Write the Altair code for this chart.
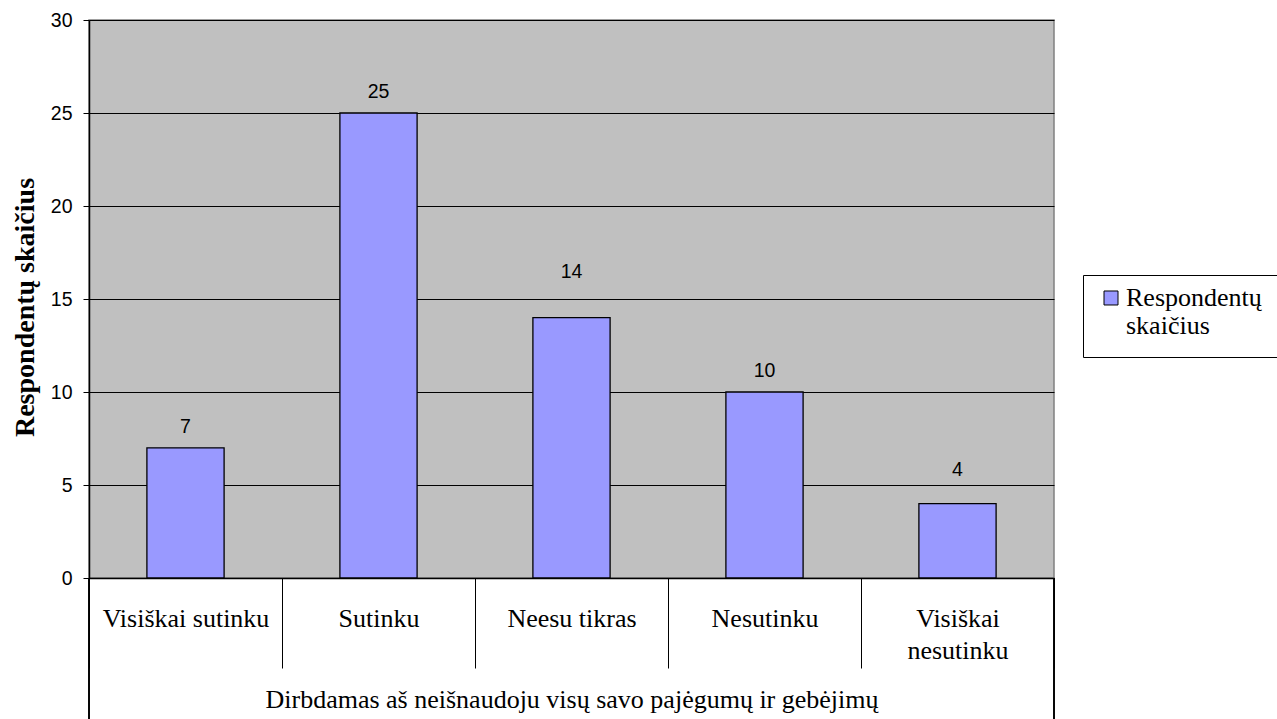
import altair as alt
import pandas as pd

# Survey answers and respondent counts
categories = ["Visiškai sutinku", "Sutinku", "Neesu tikras", "Nesutinku", "Visiškai nesutinku"]
counts = [7, 25, 14, 10, 4]
series_name = "Respondentų skaičius"
group_label = "Dirbdamas aš neišnaudoju visų savo pajėgumų ir gebėjimų"
y_ticks = [0, 5, 10, 15, 20, 25, 30]

df = pd.DataFrame({"kategorija": categories, "reiksme": counts, "serija": [series_name] * len(categories)})

SERIF = "Liberation Serif"
SANS = "Liberation Sans"

x_enc = alt.X(
    "kategorija:N",
    sort=categories,
    scale=alt.Scale(paddingInner=0, paddingOuter=0),
    axis=alt.Axis(
        title=group_label,
        titleFont=SERIF,
        titleFontSize=26,
        titleFontWeight="normal",
        titleColor="black",
        titleY=129,
        titleBaseline="alphabetic",
        labelFont=SERIF,
        labelFontSize=26,
        labelColor="black",
        labelAngle=0,
        labelBaseline="top",
        labelPadding=-63,
        labelLineHeight=32,
        labelExpr="datum.value == 'Visiškai nesutinku' ? ['Visiškai', 'nesutinku'] : datum.value",
        tickBand="extent",
        tickSize=90,
        tickColor="black",
        tickWidth=1,
        domainColor="black",
        domainWidth=1.5,
        grid=False,
    ),
)

y_enc = alt.Y(
    "reiksme:Q",
    scale=alt.Scale(domain=[0, 30], nice=False),
    axis=alt.Axis(
        title=series_name,
        values=y_ticks,
        titleFont=SERIF,
        titleFontSize=28,
        titleFontWeight="bold",
        titleColor="black",
        titleX=-56,
        titleY=287,
        titleBaseline="alphabetic",
        labelFont=SANS,
        labelFontSize=19.5,
        labelColor="black",
        labelPadding=11,
        tickSize=6,
        tickColor="black",
        domainColor="black",
        domainWidth=1.5,
        grid=True,
        gridColor="black",
        gridWidth=1,
    ),
)

# Square legend swatch raised so that it sits beside the first label line
swatch_path = "M-1,-2.143L1,-2.143L1,-0.143L-1,-0.143Z"

bars = alt.Chart(df).mark_bar(
    stroke="black", strokeWidth=1.3, width=alt.RelativeBandSize(0.4)
).encode(
    x=x_enc,
    y=y_enc,
    color=alt.Color(
        "serija:N",
        scale=alt.Scale(range=["#9999FF"]),
        legend=alt.Legend(
            title=None,
            orient="none",
            legendX=994,
            legendY=255,
            strokeColor="black",
            fillColor="white",
            padding=18,
            symbolType=swatch_path,
            symbolSize=196,
            symbolOffset=-3,
            symbolStrokeColor="black",
            symbolStrokeWidth=1,
            symbolOpacity=1,
            labelFont=SERIF,
            labelFontSize=26,
            labelColor="black",
            labelBaseline="alphabetic",
            labelOffset=2,
            labelLimit=300,
            labelExpr="['Respondentų', 'skaičius']",
        ),
    ),
)


def value_labels(lift, cats):
    return alt.Chart(df).transform_filter(
        alt.FieldOneOfPredicate(field="kategorija", oneOf=cats)
    ).mark_text(
        font=SANS, fontSize=19.5, color="black", baseline="alphabetic", dy=-lift
    ).encode(
        x=alt.X("kategorija:N", sort=categories),
        y="reiksme:Q",
        text="reiksme:Q",
    )


# Labels sit above their bars; two are lifted clear of the gridlines
labels_main = value_labels(15, ["Visiškai sutinku", "Sutinku", "Nesutinku"])
labels_mid = value_labels(40, ["Neesu tikras"])
labels_low = value_labels(28, ["Visiškai nesutinku"])

# Outer borders of the category table below the plot
left_edge = alt.Chart(df).mark_rule(color="black", strokeWidth=1).encode(
    x=alt.value(0), y=alt.value(558), y2=alt.value(700)
)
right_edge = alt.Chart(df).mark_rule(color="black", strokeWidth=1).encode(
    x=alt.value(965), y=alt.value(558), y2=alt.value(700)
)

chart = (
    alt.layer(bars, labels_main, labels_mid, labels_low, left_edge, right_edge)
    .properties(
        width=965,
        height=558,
        autosize=alt.AutoSizeParams(type="none"),
        padding={"left": 89, "top": 20, "right": 223, "bottom": 141},
        background="white",
    )
    .configure_view(fill="#C0C0C0", stroke="#808080", strokeWidth=1.5)
)

chart.save("out.html", embed_options={"renderer": "svg", "actions": False})
